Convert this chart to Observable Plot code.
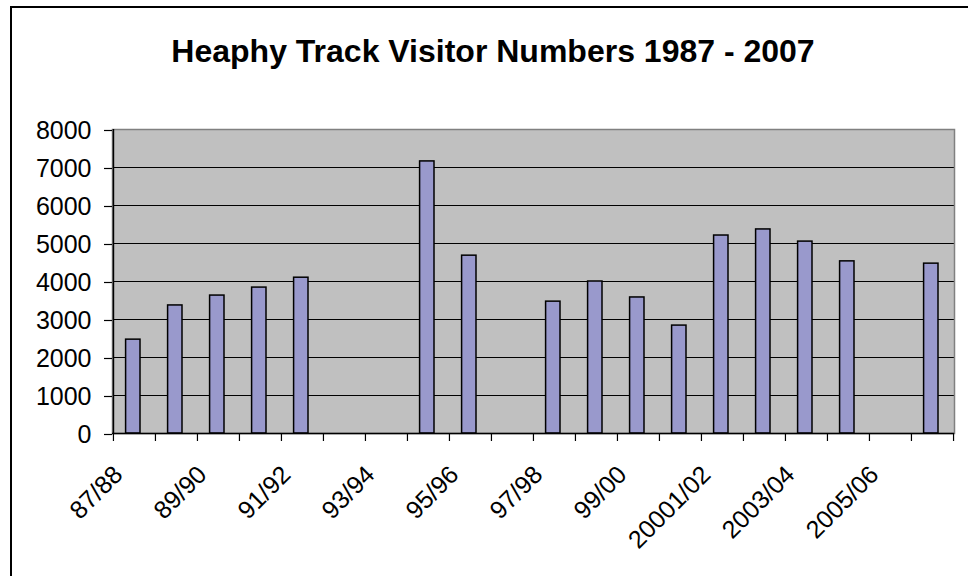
<!DOCTYPE html>
<html><head><meta charset="utf-8">
<script src="https://cdn.jsdelivr.net/npm/d3@7"></script>
<script src="https://cdn.jsdelivr.net/npm/@observablehq/plot@0.6"></script>
<style>
html,body{margin:0;padding:0;background:#fff;}
#wrap{position:relative;width:968px;height:576px;overflow:hidden;background:#fff;font-family:"Liberation Sans",Arial,sans-serif;}
#title{box-sizing:border-box;height:90px;padding-top:35px;padding-left:18px;line-height:32px;font-size:32px;font-weight:bold;text-align:center;color:#000;white-space:nowrap;}
#border{position:absolute;left:10px;top:6px;width:1000px;height:1000px;border:2px solid #000;pointer-events:none;}
#chart svg{display:block;}
</style></head>
<body><div id="wrap"><div id="title">Heaphy Track Visitor Numbers 1987 - 2007</div><div id="chart"></div><div id="border"></div></div>
<script>
const seasons = ["87/88","88/89","89/90","90/91","91/92","92/93","93/94","94/95","95/96","96/97","97/98","98/99","99/00","2000/01","20001/02","2002/03","2003/04","2004/05","2005/06","2006/07"];
const visitors = [2470,3370,3630,3840,4100,null,null,7160,4680,null,3470,4000,3580,2840,5210,5370,5050,4530,null,4470];
const labelledSeasons = ["87/88","89/90","91/92","93/94","95/96","97/98","99/00","20001/02","2003/04","2005/06"];
const yTicks = [0,1000,2000,3000,4000,5000,6000,7000,8000];
const gridValues = [1000,2000,3000,4000,5000,6000,7000];

const data = seasons.map((s, i) => ({season: s, visitors: visitors[i]}));

const W = 968, H = 486, mL = 112, mR = 14, mT = 39, mB = 143;
const plotH = H - mT - mB;
const step = (W - mL - mR) / seasons.length;

const chart = Plot.plot({
  width: W, height: H,
  marginLeft: mL, marginRight: mR, marginTop: mT, marginBottom: mB,
  style: {fontFamily: "'Liberation Sans', Arial, sans-serif", fontSize: "25px", color: "#000", background: "transparent"},
  x: {type: "band", domain: seasons, padding: 0},
  y: {domain: [0, 8000]},
  marks: [
    Plot.frame({fill: "#C0C0C0", stroke: null}),
    Plot.ruleY(gridValues, {stroke: "#000", strokeWidth: 1}),
    Plot.frame({stroke: "#808080", strokeWidth: 1.5}),
    Plot.barY(data, {x: "season", y: "visitors", fill: "#9999CC", stroke: "#000", strokeWidth: 1.5, insetLeft: 13.8, insetRight: 13.8, dx: -1.2}),
    Plot.ruleY([0], {stroke: "#000", strokeWidth: 1.5}),
    Plot.ruleX([seasons[0]], {x: d => d, dx: -step / 2, stroke: "#000", strokeWidth: 1.5}),
    Plot.ruleX(seasons, {x: d => d, dx: -step / 2, insetTop: plotH, insetBottom: -8, stroke: "#000", strokeWidth: 1.2}),
    Plot.ruleX([seasons[seasons.length - 1]], {x: d => d, dx: step / 2, insetTop: plotH, insetBottom: -8, stroke: "#000", strokeWidth: 1.2}),
    Plot.axisY({ticks: yTicks, tickSize: 8, tickPadding: 13, tickFormat: d => String(d), fontSize: 25, label: null, strokeWidth: 1.2, dy: 1}),
    Plot.axisX({ticks: labelledSeasons, tickSize: 0, tickRotate: -45, tickPadding: 37, textAnchor: "end", lineAnchor: "middle", dx: -16, fontSize: 25, label: null})
  ]
});
document.getElementById("chart").appendChild(chart);
</script>
</body></html>
